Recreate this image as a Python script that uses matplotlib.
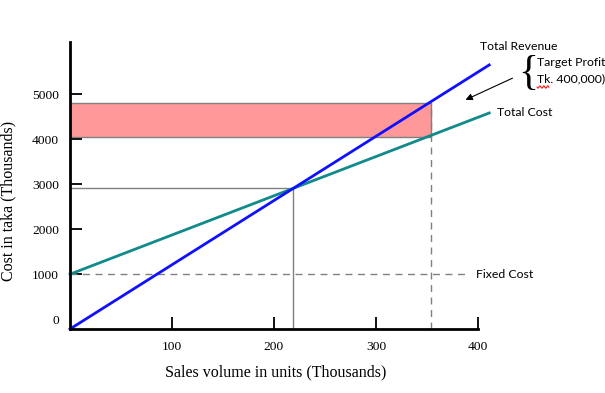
import numpy as np
import matplotlib
matplotlib.use("Agg")
import matplotlib.pyplot as plt
from matplotlib.patches import Rectangle, FancyArrowPatch
from matplotlib.lines import Line2D

# ---- data (thousands) ----
units_line = [0, 411]
revenue = [-218, 5650]
total_cost = [1000, 4582]
fixed_cost = 1000
fixed_cost_end = 389
breakeven_units = 219
breakeven_value = 2905
target_units = 354
target_low = 4050
target_high = 4810
x_ticks = [100, 200, 300, 400]
y_ticks = [0, 1000, 2000, 3000, 4000, 5000]

W, H = 605, 393
fig = plt.figure(figsize=(W / 100, H / 100), dpi=100)
ax = fig.add_axes([70 / W, (H - 329) / H, 408 / W, (329 - 42) / H])
ax.set_xlim(0, 400)
ax.set_ylim(-218, 6160)

gray = "#808080"
# target profit rectangle
ax.add_patch(Rectangle((0, target_low), target_units, target_high - target_low,
                       facecolor="#ff9999", edgecolor=gray, linewidth=1, zorder=1))
# break-even guides
ax.plot([0, breakeven_units], [breakeven_value, breakeven_value], color=gray, lw=1, zorder=2)
ax.plot([breakeven_units, breakeven_units], [-218, breakeven_value], color=gray, lw=1, zorder=2)
# target guide
ax.plot([target_units, target_units], [-218, target_high], color=gray, lw=1,
        ls=(0, (5, 4)), zorder=2)
# fixed cost
ax.plot([0, fixed_cost_end], [fixed_cost, fixed_cost], color=gray, lw=1,
        ls=(0, (5, 4)), zorder=2, clip_on=False)
# lines
ax.plot(units_line, total_cost, color="#108a8a", lw=2, zorder=3, clip_on=False)
ax.plot(units_line, revenue, color="#1010ff", lw=2, zorder=4, clip_on=False)

for s in ["top", "right"]:
    ax.spines[s].set_visible(False)
for s in ["left", "bottom"]:
    ax.spines[s].set_linewidth(2)
    ax.spines[s].set_zorder(5)

serif = "Liberation Serif"
ax.set_xticks(x_ticks)
ax.set_xticklabels([str(v) for v in x_ticks], fontfamily=serif, fontsize=9.7)
ax.set_yticks(y_ticks)
ax.set_yticklabels([str(v) for v in y_ticks], fontfamily=serif, fontsize=9.7)
ax.tick_params(direction="in", length=8.6, width=1.3, colors="black")
ax.tick_params(axis="x", pad=9)
ax.tick_params(axis="y", pad=8)
ax.yaxis.get_major_ticks()[0].tick1line.set_visible(False)

fig.text(275.5 / W, (H - 372) / H, "Sales volume in units (Thousands)",
         family=serif, fontsize=11.5, ha="center", va="center")
fig.text(8 / W, (H - 201) / H, "Cost in taka (Thousands)", family=serif,
         fontsize=11.5, ha="center", va="center", rotation=90)

sans = "Lato"
def ftxt(x, y, s, **kw):
    fig.text(x / W, (H - y) / H, s, ha="left", va="center", family=sans, fontsize=8.8, **kw)

ftxt(480, 46, "Total Revenue")
ftxt(537, 63, "Target Profit")
ftxt(537, 79, "Tk. 400,000)")
ftxt(497, 113, "Total Cost")
ftxt(476, 274, "Fixed Cost")
fig.text(528 / W, (H - 74) / H, "{", ha="center", va="center", family=serif,
         fontsize=30)

# arrow
fig.add_artist(FancyArrowPatch((515 / W, (H - 77) / H), (463 / W, (H - 101) / H),
                               transform=fig.transFigure, arrowstyle="-|>",
                               mutation_scale=10, color="black", lw=0.8))
# spell-check squiggle
sx = np.linspace(537, 549, 25)
sy = 87 + 1.2 * np.sin((sx - 537) * 1.6)
fig.add_artist(Line2D(sx / W, (H - sy) / H, transform=fig.transFigure, color="red", lw=0.7))

fig.savefig("out.png", dpi=100)
